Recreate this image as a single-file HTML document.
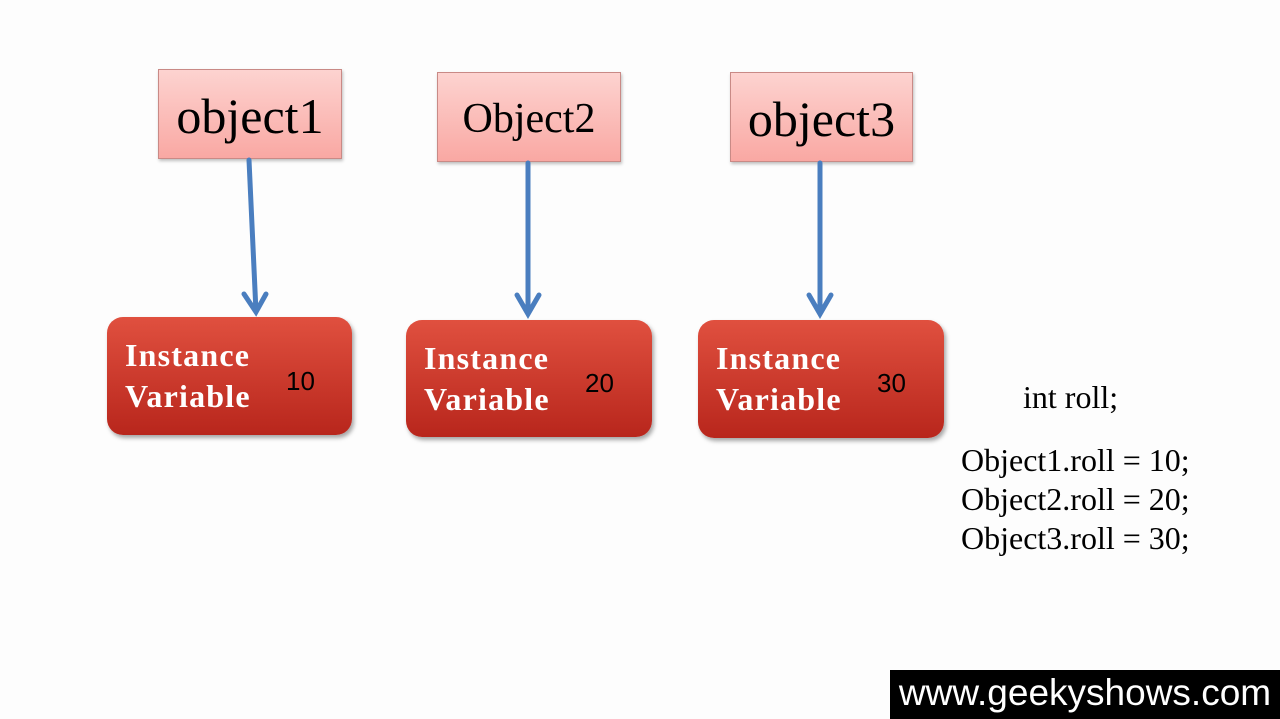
<!DOCTYPE html>
<html><head><style>
body{margin:0;width:1280px;height:719px;background:#fdfdfd;position:relative;overflow:hidden;font-family:"Liberation Serif",serif}
.p{position:absolute;background:linear-gradient(#fdd3d0,#f9a8a3);border:1px solid #c98a86;box-shadow:1px 2px 3px rgba(0,0,0,.25);text-align:center;font-size:50px;color:#000}
.r{position:absolute;background:linear-gradient(#e0503f,#b8261c);border-radius:16px;box-shadow:2px 3px 4px rgba(0,0,0,.35);color:#fff;font-weight:bold;font-size:32px;line-height:41px}
.r b{position:absolute;left:18px;top:18px;font-weight:bold;letter-spacing:1.2px}
.r i{position:absolute;font-style:normal;font-weight:normal;font-family:"Liberation Sans",sans-serif;font-size:26px;color:#000}
.t{position:absolute;font-size:32px;color:#000}
</style></head><body>
<div class="p" style="left:158px;top:69px;width:182px;height:88px;line-height:92px">object1</div>
<div class="p" style="left:437px;top:72px;width:182px;height:88px;line-height:92px;font-size:42px">Object2</div>
<div class="p" style="left:730px;top:72px;width:181px;height:88px;line-height:92px">object3</div>
<svg style="position:absolute;left:0;top:0" width="1280" height="719">
<g stroke="#4a7ebf" stroke-width="5" fill="none" stroke-linecap="round">
<path d="M249 160 L256 312 M244 294 L256 312 L266 294"/>
<path d="M528 163 L528 314 M517 295 L528 314 L539 295"/>
<path d="M820 163 L820 314 M809 295 L820 314 L831 295"/>
</g></svg>
<div class="r" style="left:107px;top:317px;width:245px;height:118px"><b>Instance<br>Variable</b><i style="left:179px;top:44px">10</i></div>
<div class="r" style="left:406px;top:320px;width:246px;height:117px"><b>Instance<br>Variable</b><i style="left:179px;top:43px">20</i></div>
<div class="r" style="left:698px;top:320px;width:246px;height:118px"><b>Instance<br>Variable</b><i style="left:179px;top:43px">30</i></div>
<div class="t" style="left:1023px;top:379px">int roll;</div>
<div class="t" style="left:961px;top:441px;line-height:39px">Object1.roll = 10;<br>Object2.roll = 20;<br>Object3.roll = 30;</div>
<div style="position:absolute;left:890px;top:670px;width:390px;height:49px;background:#000;color:#fff;font-family:'Liberation Sans',sans-serif;font-size:37px;line-height:46px;text-align:center">www.geekyshows.com</div>
</body></html>
